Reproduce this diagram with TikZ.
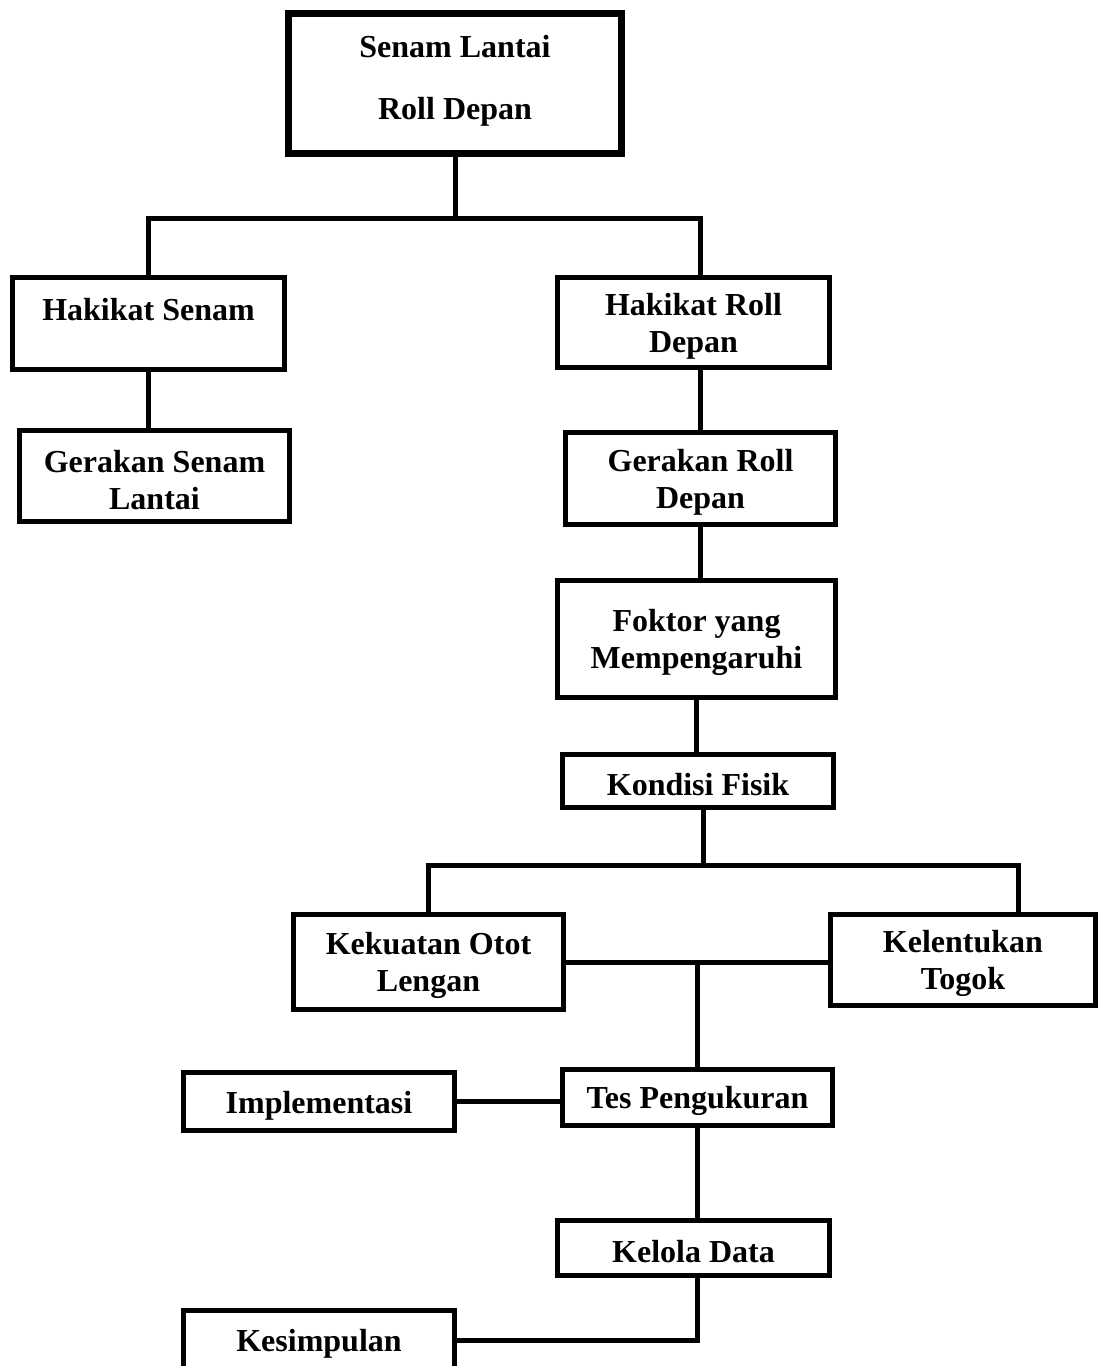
\documentclass[tikz,border=0pt]{standalone}
\usepackage{fontspec}
\setmainfont{Liberation Serif}
\usepackage{tikz}
\usetikzlibrary{calc}
\tikzset{kotak/.style={draw, line width=2.5pt, align=center, inner sep=2pt, font=\bfseries\fontsize{16}{18.5}\selectfont}}
\tikzset{garis/.style={line width=2.5pt}}
\newcommand{\kotak}[6]{\node[kotak, minimum width=#4*0.5pt, minimum height=#5*0.5pt] (#1) at ( #2 , #3 ) {\rule{0pt}{15pt}#6};}

\begin{document}
\begin{tikzpicture}[x=0.5pt,y=-0.5pt]
        \useasboundingbox (0,0) rectangle (1106,1366);
        % top
        \node[kotak, line width=3.5pt, minimum width=333*0.5pt, minimum height=140*0.5pt] (top) at (455,83.5) {\rule{0pt}{15pt}Senam Lantai\\[12.5pt]Roll Depan\\[-8.5pt]\mbox{}};

        % row1
        \kotak{hs}{148.5}{323.5}{272}{92}{Hakikat Senam\\ \mbox{}}
        \kotak{hr}{693.5}{322.5}{272}{90}{Hakikat Roll\\Depan}

        % row2
        \kotak{gs}{154.5}{476}{270}{91}{Gerakan Senam\\Lantai}
        \kotak{gr}{700.5}{478.5}{270}{92}{Gerakan Roll\\Depan}

        % middle
        \kotak{fk}{696.5}{639}{278}{117}{Foktor yang\\Mempengaruhi}
        \kotak{kf}{698}{781}{271}{53}{Kondisi Fisik}

        % row3
        \kotak{ko}{428.5}{962}{270}{95}{Kekuatan Otot\\Lengan}
        \kotak{kt}{963}{960}{265}{91}{Kelentukan\\Togok}

        % bottom
        \kotak{im}{319}{1101.5}{271}{58}{Implementasi}
        \kotak{tp}{697.5}{1097.5}{270}{56}{Tes Pengukuran}
        \kotak{kd}{693.5}{1248}{272}{55}{Kelola Data}
        \kotak{ks}{319}{1340}{271}{59}{Kesimpulan}

        % junctions
        \coordinate (j1) at (455,218);
        \coordinate (j2) at (703,865);
        \coordinate (j3) at (1018,865);

        % lines
        \draw[garis] (top.south) -- (j1);
        \draw[garis] (hs.north) |- (j1) -| (gr.north |- hr.north);
        \draw[garis] (hs.south) -- (hs.south |- gs.north);
        \draw[garis] (gr.north) -- (gr.north |- hr.south);
        \draw[garis] (gr.south) -- (gr.south |- fk.north);
        \draw[garis] (fk.south) -- (fk.south |- kf.north);
        \draw[garis] (kf.south -| j2) -- (j2);
        \draw[garis] (ko.north) |- (j2) -- (j3) -- (j3 |- kt.north);
        \draw[garis] (ko.east) -- (ko.east -| kt.west);
        \draw[garis] (tp.north) -- (tp.north |- ko.east);
        \draw[garis] (im.east) -- (im.east -| tp.west);
        \draw[garis] (tp.south) -- (tp.south |- kd.north);
        \draw[garis] (kd.south -| tp.south) |- (ks.east);
\end{tikzpicture}
\end{document}
